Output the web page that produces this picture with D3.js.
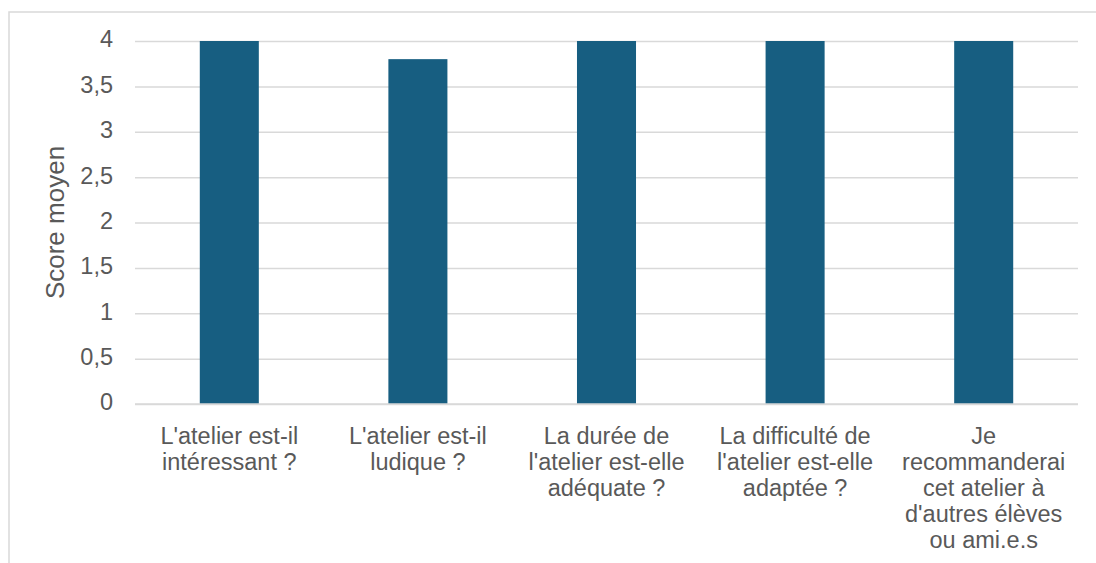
<!DOCTYPE html>
<html>
<head>
<meta charset="utf-8">
<script src="https://cdn.jsdelivr.net/npm/d3@7/dist/d3.min.js"></script>
<style>
  html, body { margin: 0; padding: 0; background: #fff; }
  svg { display: block; font-family: "Liberation Sans", Arial, sans-serif; }
</style>
</head>
<body>
<svg id="chart" width="1096" height="563"></svg>
<script>
// Questions (one entry per bar, each split into its display lines)
const categories = [
  ["L'atelier est-il", "intéressant ?"],
  ["L'atelier est-il", "ludique ?"],
  ["La durée de", "l'atelier est-elle", "adéquate ?"],
  ["La difficulté de", "l'atelier est-elle", "adaptée ?"],
  ["Je", "recommanderai", "cet atelier à", "d'autres élèves", "ou ami.e.s"]
];
// Average score per question
const scores = [4, 3.8, 4, 4, 4];
// Y axis ticks and their labels
const yTicks = [0, 0.5, 1, 1.5, 2, 2.5, 3, 3.5, 4];
const yTickLabels = ["0", "0,5", "1", "1,5", "2", "2,5", "3", "3,5", "4"];
const yTitle = "Score moyen";

const svg = d3.select("#chart");
const W = 1096, H = 563;
const plot = { left: 135, right: 1078, top: 41, bottom: 404 };
const textColor = "#595959";
const gridColor = "#d9d9d9";
const barColor = "#175e81";

// Outer frame (top and left edges)
svg.append("path")
  .attr("d", `M9,${H} V12 H${W}`)
  .attr("fill", "none")
  .attr("stroke", gridColor)
  .attr("stroke-width", 1.5);

const x = d3.scaleBand()
  .domain(d3.range(categories.length))
  .range([plot.left, plot.right])
  .paddingInner(0.687)
  .paddingOuter(0.3435);

const y = d3.scaleLinear()
  .domain([0, 4])
  .range([plot.bottom, plot.top]);

// Horizontal gridlines with tick labels
const yAxis = d3.axisLeft(y)
  .tickValues(yTicks)
  .tickFormat((d, i) => yTickLabels[i])
  .tickSize(-(plot.right - plot.left))
  .tickPadding(22);

const gy = svg.append("g")
  .attr("transform", `translate(${plot.left},0)`)
  .call(yAxis);
gy.select(".domain").remove();
gy.selectAll(".tick line")
  .attr("stroke", gridColor)
  .attr("stroke-width", 1.5);
gy.selectAll(".tick text")
  .attr("fill", textColor)
  .attr("font-size", "23.5px")
  .attr("dy", "0.25em");

// Bars
svg.append("g")
  .selectAll("rect")
  .data(scores)
  .join("rect")
  .attr("x", (d, i) => x(i))
  .attr("width", x.bandwidth())
  .attr("y", d => y(d))
  .attr("height", d => y(0) - y(d))
  .attr("fill", barColor);

// Category axis with multi-line labels
const xAxis = d3.axisBottom(x).tickSize(0).tickFormat(() => "");
const gx = svg.append("g")
  .attr("transform", `translate(0,${plot.bottom})`)
  .call(xAxis);
gx.select(".domain").remove();
gx.selectAll(".tick").each(function(d) {
  const t = d3.select(this).append("text")
    .attr("fill", textColor)
    .attr("font-size", "23.5px")
    .attr("text-anchor", "middle")
    .attr("y", 40);
  categories[d].forEach((line, k) => {
    t.append("tspan")
      .attr("x", 0)
      .attr("dy", k === 0 ? 0 : 26)
      .text(line);
  });
});

// Baseline at zero
svg.append("line")
  .attr("x1", plot.left).attr("x2", plot.right)
  .attr("y1", y(0)).attr("y2", y(0))
  .attr("stroke", gridColor)
  .attr("stroke-width", 1.5);

// Y axis title
svg.append("text")
  .attr("transform", `translate(64,${(plot.top + plot.bottom) / 2}) rotate(-90)`)
  .attr("text-anchor", "middle")
  .attr("fill", textColor)
  .attr("font-size", "26px")
  .text(yTitle);
</script>
</body>
</html>
